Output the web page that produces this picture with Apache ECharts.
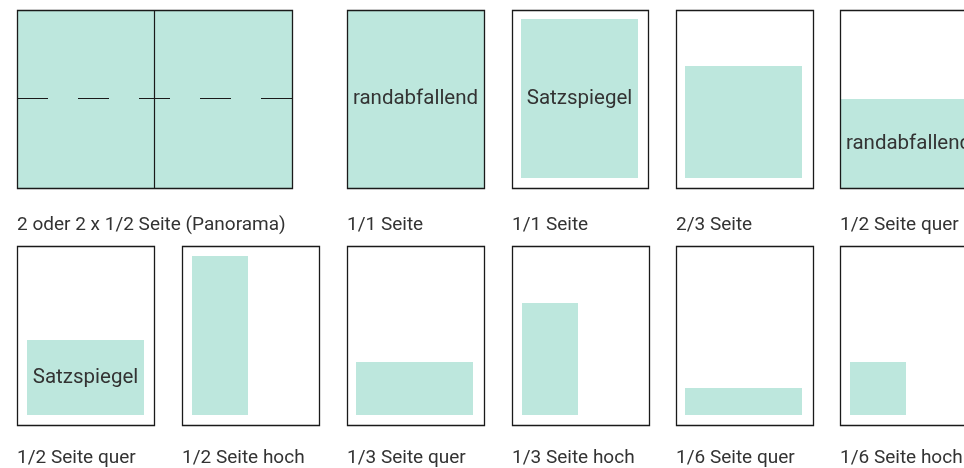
<!DOCTYPE html>
<html>
<head>
<meta charset="utf-8">
<script src="https://cdn.jsdelivr.net/npm/echarts@6/dist/echarts.min.js"></script>
<style>
  html, body { margin: 0; padding: 0; background: #fff; }
  #chart { width: 964px; height: 468px; }
</style>
</head>
<body>
<div id="chart"></div>
<script>
// Anzeigenformate: Seitenrahmen, belegte Fläche, Beschriftung
// Koordinaten in Bildpunkten des Rasters (x nach rechts, y nach unten)

// Seitenrahmen [x0, y0, x1, y1]
const pages = [
    [17, 10, 292, 188], [347, 10, 484, 188], [512, 10, 648, 188], [676, 10, 813, 188], [840, 10, 977, 188],
    [17, 246, 154, 425], [182, 246, 319, 425], [347, 246, 484, 425], [512, 246, 649, 425], [676, 246, 813, 425], [840, 246, 977, 425]
];

// belegte Fläche je Format [x0, y0, x1, y1]
const areas = [
    [17, 10, 292, 188], [347, 10, 484, 188], [521, 19, 638, 178], [685, 66, 802, 178], [840, 99, 977, 188],
    [27, 340, 144, 415], [192, 256, 248, 415], [356, 362, 473, 415], [522, 303, 578, 415], [685, 388, 802, 415], [850, 362, 906, 415]
];

// Text in der Fläche
const areaTexts = ['', 'randabfallend', 'Satzspiegel', '', 'randabfallend', 'Satzspiegel', '', '', '', '', ''];

// Beschriftung unter dem Rahmen
const captions = [
    '2 oder 2 x 1/2 Seite (Panorama)', '1/1 Seite', '1/1 Seite', '2/3 Seite', '1/2 Seite quer',
    '1/2 Seite quer', '1/2 Seite hoch', '1/3 Seite quer', '1/3 Seite hoch', '1/6 Seite quer', '1/6 Seite hoch'
];

// Falzlinien Panorama [x0, y0, x1, y1, gestrichelt]
const folds = [
    [154.5, 10, 154.5, 188, 0],
    [17, 98.5, 292, 98.5, 1]
];

const FILL = '#bde7dd';
const INK = '#333333';
const FONT = 'Roboto, "Noto Sans", sans-serif';

const chart = echarts.init(document.getElementById('chart'), null, { renderer: 'canvas' });

function rectShape(api, b) {
    const p0 = api.coord([b[0], b[1]]);
    const p1 = api.coord([b[2], b[3]]);
    return { x: p0[0], y: p0[1], width: p1[0] - p0[0], height: p1[1] - p0[1] };
}

chart.setOption({
    animation: false,
    backgroundColor: '#ffffff',
    grid: { left: 0, right: 0, top: 0, bottom: 0 },
    xAxis: { type: 'value', min: 0, max: 964, show: false },
    yAxis: { type: 'value', min: 0, max: 468, inverse: true, show: false },
    series: [
        {
            // belegte Flächen
            type: 'custom',
            coordinateSystem: 'cartesian2d',
            data: areas.map((a, i) => [a[0], a[1], a[2], a[3], i]),
            renderItem: function (params, api) {
                const b = [api.value(0), api.value(1), api.value(2), api.value(3)];
                const s = rectShape(api, b);
                const t = areaTexts[api.value(4)];
                return {
                    type: 'rect',
                    shape: s,
                    style: { fill: FILL },
                    textContent: t ? {
                        style: { text: t, fill: INK, fontSize: 20.5, fontFamily: FONT }
                    } : undefined,
                    textConfig: t ? { position: 'inside' } : undefined
                };
            },
            z: 1
        },
        {
            // Seitenrahmen
            type: 'custom',
            coordinateSystem: 'cartesian2d',
            data: pages.map(p => [p[0], p[1], p[2], p[3]]),
            renderItem: function (params, api) {
                const b = [api.value(0), api.value(1), api.value(2), api.value(3)];
                const s = rectShape(api, b);
                s.x += 0.5; s.y += 0.5;
                return {
                    type: 'rect',
                    shape: s,
                    style: { fill: null, stroke: '#1a1a1a', lineWidth: 1.3 }
                };
            },
            z: 3
        },
        {
            // Falzlinien
            type: 'custom',
            coordinateSystem: 'cartesian2d',
            data: folds,
            renderItem: function (params, api) {
                const p0 = api.coord([api.value(0), api.value(1)]);
                const p1 = api.coord([api.value(2), api.value(3)]);
                return {
                    type: 'line',
                    shape: { x1: p0[0], y1: p0[1], x2: p1[0], y2: p1[1] },
                    style: {
                        stroke: '#1a1a1a', lineWidth: 1.2,
                        lineDash: api.value(4) ? [31, 30] : null
                    }
                };
            },
            z: 4
        },
        {
            // Beschriftungen
            type: 'custom',
            coordinateSystem: 'cartesian2d',
            data: pages.map((p, i) => [p[0], p[3], i]),
            renderItem: function (params, api) {
                const i = api.value(2);
                const yOff = pages[i][1] < 100 ? 37 : 33;
                const p = api.coord([api.value(0), api.value(1) + yOff]);
                return {
                    type: 'text',
                    style: {
                        x: p[0], y: p[1],
                        text: captions[i],
                        fill: INK, fontSize: 19, fontFamily: FONT,
                        align: 'left', verticalAlign: 'middle'
                    }
                };
            },
            z: 5
        }
    ]
});
</script>
</body>
</html>
